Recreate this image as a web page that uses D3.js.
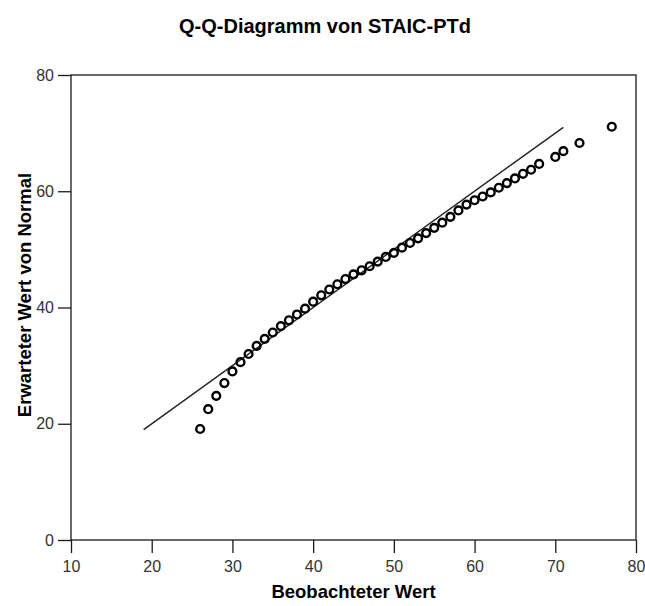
<!DOCTYPE html>
<html>
<head>
<meta charset="utf-8">
<script src="https://cdn.jsdelivr.net/npm/d3@7"></script>
<style>
  html, body { margin: 0; padding: 0; background: #fff; }
  svg { display: block; font-family: "Liberation Sans", Arial, sans-serif; }
</style>
</head>
<body>
<svg id="chart" width="645" height="606"></svg>
<script>
// ---- data ----
const chartTitle = "Q-Q-Diagramm von STAIC-PTd";
const xTitle = "Beobachteter Wert";
const yTitle = "Erwarteter Wert von Normal";
const observed = [26, 27, 28, 29, 30, 31, 32, 33, 34, 35, 36, 37, 38, 39, 40,
  41, 42, 43, 44, 45, 46, 47, 48, 49, 50, 51, 52, 53, 54, 55, 56, 57, 58, 59, 60,
  61, 62, 63, 64, 65, 66, 67, 68, 70, 71, 73, 77];
const expected = [19.1, 22.5, 24.8, 27.0, 29.0, 30.6, 32.0, 33.4, 34.6, 35.7, 36.8, 37.8, 38.8, 39.8, 41.0,
  42.1, 43.1, 44.0, 44.9, 45.7, 46.4, 47.1, 47.9, 48.7, 49.4, 50.3, 51.1, 51.9, 52.8, 53.7, 54.6, 55.6, 56.7, 57.7, 58.45,
  59.1, 59.8, 60.6, 61.4, 62.2, 63.0, 63.7, 64.7, 65.9, 66.9, 68.3, 71.1];
const refLineRange = [19, 71];
const xTicks = [10, 20, 30, 40, 50, 60, 70, 80];
const yTicks = [0, 20, 40, 60, 80];
const xDomain = [10, 80];
const yDomain = [0, 80];

// ---- layout ----
const svg = d3.select("#chart");
const mLeft = 71, mRight = 636, mTop = 75, mBottom = 540;

const x = d3.scaleLinear().domain(xDomain).range([mLeft, mRight]);
const y = d3.scaleLinear().domain(yDomain).range([mBottom, mTop]);

// title
svg.append("text")
  .attr("x", 325).attr("y", 33)
  .attr("text-anchor", "middle")
  .style("font-size", "20px").style("font-weight", "bold")
  .attr("fill", "#000")
  .text(chartTitle);

// frame
svg.append("rect")
  .attr("x", mLeft).attr("y", mTop)
  .attr("width", mRight - mLeft).attr("height", mBottom - mTop)
  .attr("fill", "none").attr("stroke", "#1a1a1a").attr("stroke-width", 1.3);

// axes
const xAxis = svg.append("g")
  .attr("transform", `translate(0,${mBottom})`)
  .call(d3.axisBottom(x).tickValues(xTicks).tickSize(13).tickPadding(8).tickFormat(d3.format("d")));
const yAxis = svg.append("g")
  .attr("transform", `translate(${mLeft},0)`)
  .call(d3.axisLeft(y).tickValues(yTicks).tickSize(13).tickPadding(4).tickFormat(d3.format("d")));

[xAxis, yAxis].forEach(g => {
  g.select(".domain").remove();
  g.selectAll(".tick line").attr("stroke", "#1a1a1a").attr("stroke-width", 1.3);
  g.selectAll(".tick text")
    .attr("fill", "#333")
    .style("font-size", "16px")
    .style("font-family", "'Liberation Sans', Arial, sans-serif");
});

// axis titles
svg.append("text")
  .attr("x", (mLeft + mRight) / 2).attr("y", 598)
  .attr("text-anchor", "middle")
  .style("font-size", "18.5px").style("font-weight", "bold")
  .attr("fill", "#000")
  .text(xTitle);

svg.append("text")
  .attr("transform", `translate(31,295) rotate(-90)`)
  .attr("text-anchor", "middle")
  .style("font-size", "18.5px").style("font-weight", "bold")
  .attr("fill", "#000")
  .text(yTitle);

// reference line
svg.append("line")
  .attr("x1", x(refLineRange[0])).attr("y1", y(refLineRange[0]))
  .attr("x2", x(refLineRange[1])).attr("y2", y(refLineRange[1]))
  .attr("stroke", "#222").attr("stroke-width", 1.4);

// points
const pts = observed.map((v, i) => ({ x: v, y: expected[i] }));
svg.append("g")
  .selectAll("circle")
  .data(pts)
  .join("circle")
  .attr("cx", d => x(d.x))
  .attr("cy", d => y(d.y))
  .attr("r", 3.9)
  .attr("fill", "none")
  .attr("stroke", "#000")
  .attr("stroke-width", 2.4);
</script>
</body>
</html>
